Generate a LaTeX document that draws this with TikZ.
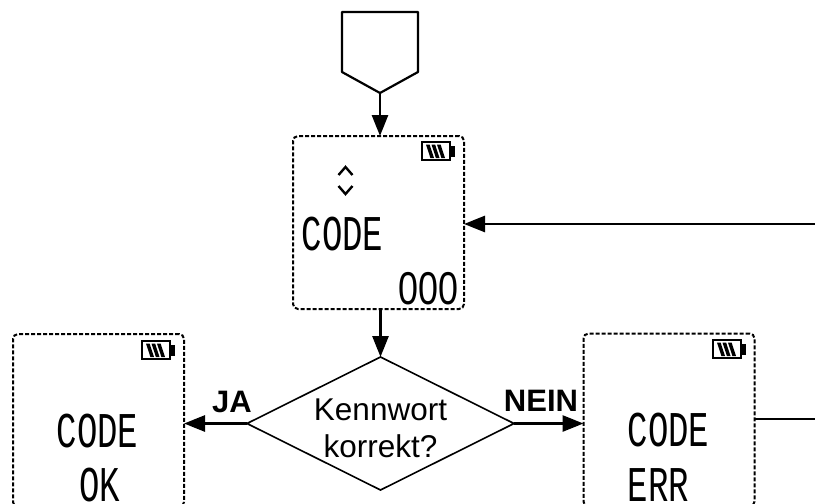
\documentclass[tikz,border=0pt]{standalone}
\usepackage{fontspec}
\setmainfont{Liberation Sans}
\newfontfamily\lcdfont{Liberation Mono}
\usetikzlibrary{shapes.geometric,arrows.meta}
\tikzset{
  lcdbox/.style={draw,line width=2pt,dash pattern=on 4pt off 2pt,rounded corners=5pt,minimum width=171pt,minimum height=173pt,inner sep=0pt,outer sep=0pt},
  flow/.style={line width=2.8pt,-{Triangle[length=21pt,width=16pt]}},
  plain/.style={line width=2.8pt},
  lcd/.style={inner sep=0pt,outer sep=0pt,font=\fontsize{50}{50}\selectfont\lcdfont,xscale=.68},
  lcdnum/.style={inner sep=0pt,outer sep=0pt,font=\fontsize{46}{46}\selectfont,xscale=.78},
  decision/.style={diamond,draw,line width=1.6pt,minimum width=267pt,minimum height=133pt,inner sep=0pt,outer sep=0pt},
  decisiontext/.style={inner sep=0pt,align=center,font=\fontsize{31.5}{37}\selectfont},
  branch/.style={inner sep=0pt,font=\fontsize{31}{31}\selectfont\bfseries},
  battery/.pic={
    \draw[line width=1.9pt] (-14,-9) rectangle (14,9);
    \fill (14,-5.5) rectangle (18.5,5.5);
    \foreach \i in {-10,-4.5,1}
      \fill (\i,-6.5) -- (\i+3.6,-6.5) -- (\i+8,7) -- (\i+4.4,7) -- cycle;
  }
}
\begin{document}
\begin{tikzpicture}[x=1pt,y=-1pt]
\useasboundingbox (0,0) rectangle (815,504);
\clip (0,0) rectangle (815,504);
% entry shape
\coordinate (pentip) at (380,93);
\draw[line width=2.2pt,line join=round] (342,12) -- (418,12) -- (418,72) -- (pentip) -- (342,72) -- cycle;
% displays
\node[lcdbox] (main) at (378.5,222.5) {};
\node[lcdbox] (ok) at (98.5,420.5) {};
\node[lcdbox] (err) at (669,420) {};
\node[decision] (check) at (380.5,423.5) {};
\node[decisiontext] (checktext) at (380.5,428) {Kennwort\\korrekt?};
% free ends
\coordinate (backin) at (815,224);
\coordinate (backout) at (815,419);
% connectors
\draw[flow] (pentip) -- (pentip |- main.north);
\draw[flow] (check.north |- main.south) -- (check.north);
\draw[flow] (backin) -- (backin -| main.east);
\draw[flow] (check.west) -- (check.west -| ok.east);
\draw[flow] (check.east) -- (check.east -| err.west);
\draw[plain] (backout -| err.east) -- (backout);
% branch labels
\node[branch] (ja) at (232,402) {JA};
\node[branch] (nein) at (541,401) {NEIN};
% LCD contents
\node[lcd] (t1) at (342.5,234) {CODE};
\node[lcdnum] (t2) at (428.5,289) {000};
\node[lcd] (t3) at (97.5,431.5) {CODE};
\node[lcd] (t4) at (100,485) {OK};
\node[lcd] (t5) at (668.5,430.5) {CODE};
\node[lcd] (t6) at (658.5,485) {ERR};
% batteries
\pic at (436,151) {battery};
\pic at (156,350) {battery};
\pic at (727,349) {battery};
% up/down marks
\draw[line width=2.4pt] (338.5,175) -- (345.5,167) -- (352.5,175);
\draw[line width=2.4pt] (338.5,186) -- (345.5,194) -- (352.5,186);
\end{tikzpicture}
\end{document}
